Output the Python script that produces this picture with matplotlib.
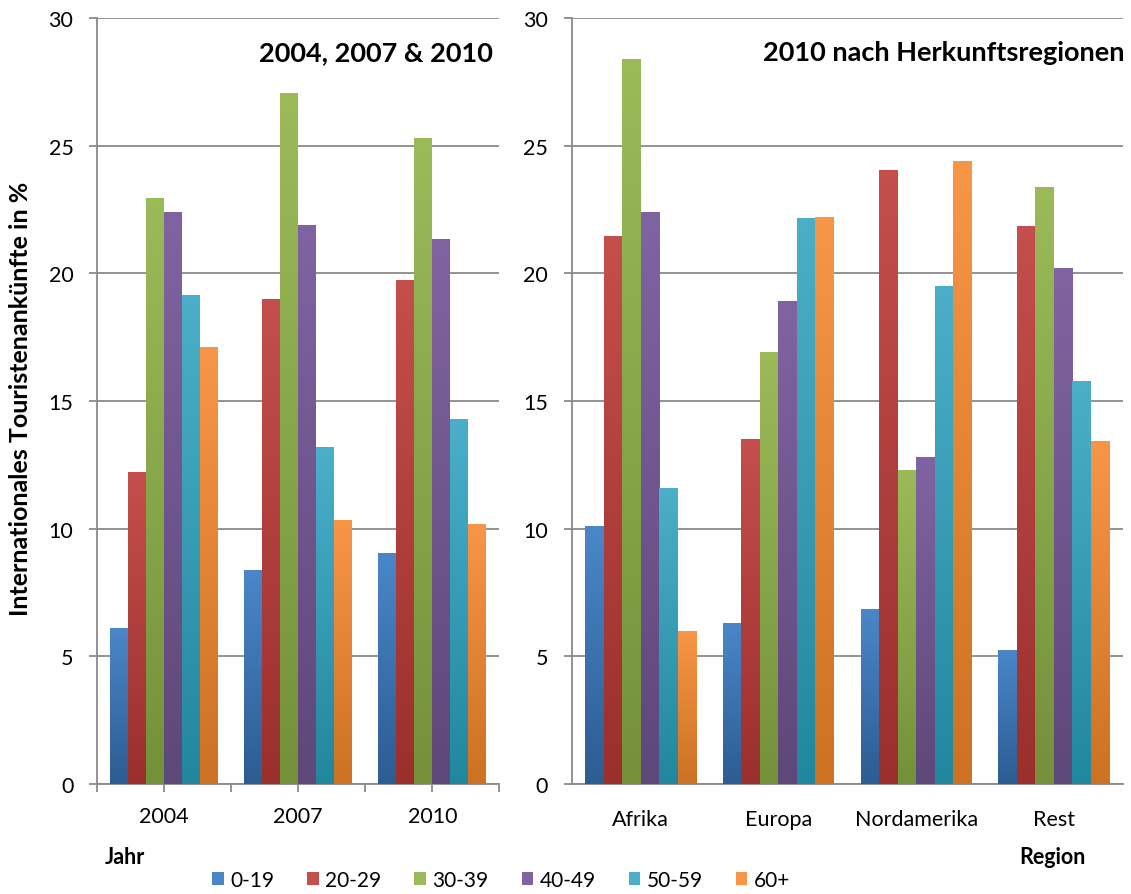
import matplotlib.pyplot as plt
import numpy as np
from matplotlib.colors import LinearSegmentedColormap
from matplotlib.patches import Patch

plt.rcParams['font.family'] = ['Lato', 'DejaVu Sans']

age_groups = ['0-19', '20-29', '30-39', '40-49', '50-59', '60+']

years = ['2004', '2007', '2010']
year_values = {
    '0-19':  [6.1, 8.4, 9.05],
    '20-29': [12.2, 19.0, 19.75],
    '30-39': [22.95, 27.05, 25.3],
    '40-49': [22.4, 21.9, 21.35],
    '50-59': [19.15, 13.2, 14.3],
    '60+':   [17.1, 10.35, 10.2],
}

regions = ['Afrika', 'Europa', 'Nordamerika', 'Rest']
region_values = {
    '0-19':  [10.1, 6.3, 6.85, 5.25],
    '20-29': [21.45, 13.5, 24.05, 21.85],
    '30-39': [28.4, 16.9, 12.3, 23.4],
    '40-49': [22.4, 18.9, 12.8, 20.2],
    '50-59': [11.6, 22.15, 19.5, 15.8],
    '60+':   [6.0, 22.2, 24.4, 13.45],
}

# (top colour, bottom colour) for the vertical gradient of each series
colors = {
    '0-19':  ('#4a87c9', '#2c5c92'),
    '20-29': ('#c44f4c', '#9a2f2c'),
    '30-39': ('#9bbb59', '#74913a'),
    '40-49': ('#8064a2', '#5e4779'),
    '50-59': ('#4bafc9', '#21879e'),
    '60+':   ('#f79646', '#cc7222'),
}

GRID = '#8a8a8a'
BAR_W = 0.134
TICK_FS = 15.5


def gradient_bars(ax, cats, values):
    x = np.arange(len(cats))
    n = len(age_groups)
    grad = np.linspace(1, 0, 256).reshape(-1, 1)
    for i, grp in enumerate(age_groups):
        offs = (i - (n - 1) / 2) * BAR_W
        bars = ax.bar(x + offs, values[grp], width=BAR_W, color='none',
                      edgecolor='none', zorder=3)
        top, bottom = colors[grp]
        cmap = LinearSegmentedColormap.from_list(grp, [bottom, top])
        for b in bars:
            x0, w, h = b.get_x(), b.get_width(), b.get_height()
            im = ax.imshow(grad, cmap=cmap, vmin=0, vmax=1, aspect='auto',
                           extent=[x0, x0 + w, 0, h], zorder=3,
                           interpolation='bilinear')
            im.set_clip_path(b)
    ax.set_xlim(-0.5, len(cats) - 0.5)
    ax.set_ylim(0, 30)
    ax.set_xticks(x)
    ax.set_xticklabels(cats)
    ax.set_yticks(np.arange(0, 31, 5))
    ax.yaxis.grid(True, color=GRID, linewidth=1.3, zorder=0)
    ax.set_axisbelow(True)
    for s in ['top', 'right']:
        ax.spines[s].set_visible(False)
    for s in ['left', 'bottom']:
        ax.spines[s].set_color(GRID)
        ax.spines[s].set_linewidth(1.3)
    ax.tick_params(axis='y', length=6, width=1.3, color=GRID, pad=11,
                   labelsize=TICK_FS)
    ax.tick_params(axis='x', labelsize=TICK_FS, pad=10)


fig = plt.figure(figsize=(11.31, 8.95), dpi=100)
ax1 = fig.add_axes([0.0858, 0.1229, 0.3557, 0.8559])
ax2 = fig.add_axes([0.5055, 0.1229, 0.4872, 0.8559])

gradient_bars(ax1, years, year_values)
gradient_bars(ax2, regions, region_values)

# left panel: ticks at category centres and boundaries
ax1.set_xticks(np.arange(-0.5, len(years), 1.0), minor=True)
ax1.tick_params(axis='x', which='both', length=6, width=1.3, color=GRID)
ax2.tick_params(axis='x', length=0, pad=18)

ax1.text(0.985, 0.955, '2004, 2007 & 2010', transform=ax1.transAxes,
         ha='right', va='center', fontsize=19.5, fontweight='bold')
ax2.text(1.003, 0.955, '2010 nach Herkunftsregionen', transform=ax2.transAxes,
         ha='right', va='center', fontsize=19.5, fontweight='bold')

fig.text(0.018, 0.554, 'Internationales Touristenankünfte in %', rotation=90,
         ha='center', va='center', fontsize=18, fontweight='bold')
fig.text(0.093, 0.042, 'Jahr', ha='left', va='center', fontsize=15.5,
         fontweight='bold')
fig.text(0.96, 0.042, 'Region', ha='right', va='center', fontsize=15.5,
         fontweight='bold')

handles = [Patch(facecolor=colors[g][0], edgecolor='none') for g in age_groups]
fig.legend(handles, age_groups, loc='center', bbox_to_anchor=(0.443, 0.016),
           ncol=6, frameon=False, fontsize=15, handlelength=0.55,
           handleheight=0.55, handletextpad=0.3, columnspacing=1.6)

fig.savefig('out.png', dpi=100)
